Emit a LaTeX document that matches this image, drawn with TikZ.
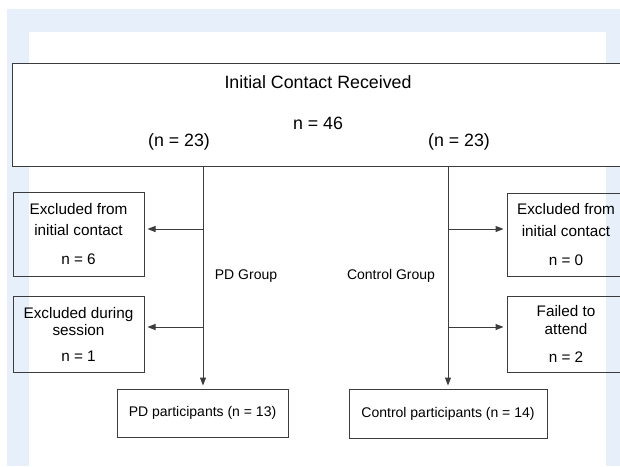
\documentclass[tikz,border=0pt]{standalone}
\usepackage{fontspec}
\setmainfont{Liberation Sans}
\usetikzlibrary{arrows.meta}
\definecolor{bgblue}{RGB}{231,240,250}
\definecolor{linegray}{RGB}{60,60,60}
\tikzset{
  boxline/.style={draw=linegray, line width=1pt},
  topbox/.style={boxline, minimum width=617pt, minimum height=103pt, inner sep=0pt},
  sidebox/.style={boxline, align=center, inner sep=0pt, font=\fontsize{15.3}{18}\selectfont},
  endbox/.style={boxline, inner sep=0pt, font=\fontsize{14}{17}\selectfont},
  toptext/.style={font=\fontsize{17.8}{21}\selectfont, inner sep=0pt},
  grouplabel/.style={font=\fontsize{14}{17}\selectfont, inner sep=0pt},
  arr/.style={draw=linegray, line width=1pt, -{Triangle[length=8pt,width=6pt]}, shorten >=3pt},
  trunk/.style={draw=linegray, line width=1pt}
}
\begin{document}
\begin{tikzpicture}[x=1pt,y=-1pt]
\useasboundingbox (0,0) rectangle (620,466);
% background panels
\fill[bgblue] (7,9) rectangle (620,466);
\fill[white] (29,32) rectangle (606,466);
% top box
\node[topbox, fill=white] (top) at (321,114.5) {};
\node[toptext] (title) at (318,82) {Initial Contact Received};
\node[toptext] (total) at (318,123) {n = 46};
\node[toptext] (pdn) at (179,142) {(n = 23)};
\node[toptext] (ctn) at (459,142) {(n = 23)};
% side boxes
\node[sidebox, minimum width=131pt, minimum height=84pt] (b1) at (78.5,234)
  {Excluded from\\[3.7pt]initial contact\\[11pt]n = 6};
\node[sidebox, minimum width=131pt, minimum height=76pt] (b2) at (78.5,334)
  {Excluded during\\[-0.7pt]session\\[7.7pt]n = 1};
\node[sidebox, minimum width=118pt, minimum height=83pt] (b3) at (566,234.5)
  {Excluded from\\[4.4pt]initial contact\\[11pt]n = 0};
\node[sidebox, minimum width=118pt, minimum height=76pt] (b4) at (566,334)
  {Failed to\\[0.3pt]attend\\[10pt]n = 2};
% end boxes
\node[endbox, minimum width=171pt, minimum height=48pt] (pd) at (202.5,413) {PD participants (n = 13)};
\node[endbox, minimum width=198pt, minimum height=49pt] (ct) at (448,413.5) {Control participants (n = 14)};
% group labels
\node[grouplabel] (pdg) at (246,276) {PD Group};
\node[grouplabel] (ctg) at (391,276) {Control Group};
% connectors
\coordinate (pdtop) at (203,166);
\coordinate (cttop) at (448,166);
\coordinate (j1) at (203,229);
\coordinate (j2) at (203,327);
\coordinate (j3) at (448,229);
\coordinate (j4) at (448,327);
\draw[arr] (pdtop) -- (pdtop |- pd.north);
\draw[arr] (cttop) -- (cttop |- ct.north);
\draw[arr] (j1) -- (j1 -| b1.east);
\draw[arr] (j2) -- (j2 -| b2.east);
\draw[arr] (j3) -- (j3 -| b3.west);
\draw[arr] (j4) -- (j4 -| b4.west);
\end{tikzpicture}
\end{document}
